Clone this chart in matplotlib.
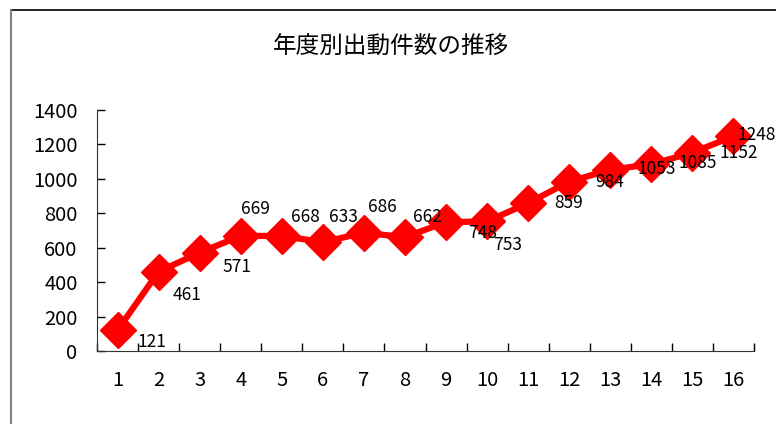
import matplotlib.pyplot as plt
from matplotlib.lines import Line2D

plt.rcParams['font.family'] = ['Noto Sans CJK JP', 'DejaVu Sans']

# data
years = list(range(1, 17))
counts = [121, 461, 571, 669, 668, 633, 686, 662, 748, 753,
          859, 984, 1053, 1085, 1152, 1248]
# where the data labels sit (data coords), as in the reference
label_x = [1.84, 2.69, 3.91, 4.37, 5.57, 6.49, 7.44, 8.54, 9.88, 10.51,
           11.99, 12.99, 14.14, 15.14, 16.14, 16.57]
label_y = [52, 326, 488, 826, 779, 779, 837, 779, 686, 616,
           860, 983, 1058, 1093, 1151, 1256]

fig = plt.figure(figsize=(7.76, 4.24), dpi=100)
ax = fig.add_axes([97 / 776, 1 - 351 / 424, (754 - 97) / 776, (351 - 110) / 424])

ax.plot(years, counts, color='#ff0000', lw=4.5, marker='D', ms=18.5,
        mec='#ff0000', mfc='#ff0000', zorder=3, clip_on=False)

# labels go over the markers
for lx, ly, v in zip(label_x, label_y, counts):
    ax.text(lx, ly, str(v), ha='center', va='center', fontsize=12.5,
            color='black', zorder=4, clip_on=False)

ax.set_xlim(0.5, 16.5)
ax.set_ylim(0, 1400)
ax.set_yticks(range(0, 1401, 200))
ax.set_xticks(years)
ax.set_xticks([x + 0.5 for x in range(0, 17)], minor=True)
ax.tick_params(axis='x', which='major', length=0, pad=14, labelsize=14.5)
ax.tick_params(axis='x', which='minor', direction='in', length=6, width=1)
ax.tick_params(axis='y', direction='in', length=6, width=1, pad=14, labelsize=14.5)
for s in ['top', 'right']:
    ax.spines[s].set_visible(False)
for s in ['left', 'bottom']:
    ax.spines[s].set_color('#333333')

fig.text(391 / 776, 1 - 46 / 424, '年度別出動件数の推移', ha='center', va='center',
         fontsize=17)

# chart area border (top and left edges visible)
fig.add_artist(Line2D([11 / 776, 1], [1 - 10 / 424, 1 - 10 / 424],
                      transform=fig.transFigure, color='black', lw=1.2))
fig.add_artist(Line2D([11 / 776, 11 / 776], [0, 1 - 10 / 424],
                      transform=fig.transFigure, color='#808080', lw=1.5))

fig.savefig('out.png', dpi=100)
